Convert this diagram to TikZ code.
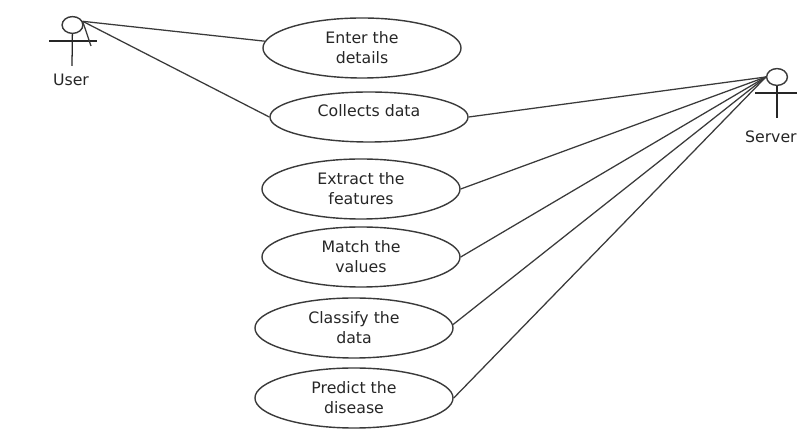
\documentclass[tikz,border=0pt]{standalone}
\usepackage{fontspec}
\setmainfont{DejaVu Sans}
\usetikzlibrary{positioning, shapes}
\definecolor{inkgray}{HTML}{3A3A3A}

\begin{document}
\begin{tikzpicture}[
  x=0.025cm, y=-0.025cm,
  usecase/.style={ellipse, draw=inkgray, line width=1pt, minimum width=4.95cm, minimum height=1.5cm, inner sep=0pt, align=center, font=\fontsize{11.2}{14.4}\selectfont, text=black!85},
  head/.style={ellipse, draw=inkgray, line width=1pt, minimum width=0.52cm, minimum height=0.42cm, inner sep=0pt},
  actorname/.style={font=\fontsize{11.2}{12}\selectfont, text=black!85},
  limb/.style={draw=black!85, line width=0.9pt},
  link/.style={draw=inkgray, line width=0.9pt}
]
\useasboundingbox (0,0) rectangle (797,444);

% user actor
\node[head] (UserHead) at (72.5,25) {};
\node[actorname] (UserName) at (71,80) {User};
\coordinate (UserArmL) at (49,41);
\coordinate (UserArmR) at (97,41);
\coordinate (UserFoot) at (72,66);
\coordinate (UserTick) at (91,46);
\draw[limb] (UserArmL) -- (UserArmR);
\draw[limb] (UserHead) -- (UserFoot);

% server actor
\node[head] (ServerHead) at (777,77) {};
\node[actorname, anchor=east, inner xsep=0pt] (ServerName) at (797,137) {Server};
\coordinate (ServerArmL) at (755,93);
\coordinate (ServerArmR) at (800,93);
\coordinate (ServerFoot) at (777,118);
\draw[limb] (ServerArmL) -- (ServerArmR);
\draw[limb] (ServerHead) -- (ServerFoot);

% use cases
\node[usecase] (Enter) at (362,48) {Enter the\\details};
\node[usecase, minimum height=1.25cm, label={[font=\fontsize{11.2}{14.4}\selectfont, text=black!85, yshift=0.15cm]center:Collects data}] (Collects) at (369,117) {};
\node[usecase] (Extract) at (361,189) {Extract the\\features};
\node[usecase] (Match) at (361,257) {Match the\\values};
\node[usecase] (Classify) at (354,328) {Classify the\\data};
\node[usecase] (Predict) at (354,398) {Predict the\\disease};

% connectors
\draw[link] (UserHead.20) -- (Enter.176);
\draw[link] (UserHead.20) -- (Collects.west);
\draw[link] (UserHead.20) -- (UserTick);
\draw[link] (Collects.east) -- (ServerHead.west);
\draw[link] (Extract.east) -- (ServerHead.west);
\draw[link] (Match.east) -- (ServerHead.west);
\draw[link] (Classify.2) -- (ServerHead.west);
\draw[link] (Predict.east) -- (ServerHead.west);
\end{tikzpicture}
\end{document}
